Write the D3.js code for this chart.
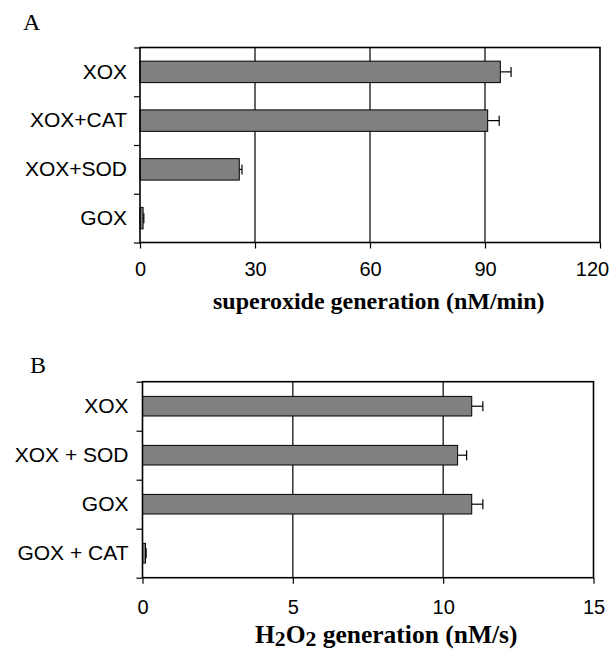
<!DOCTYPE html>
<html>
<head>
<meta charset="utf-8">
<script src="https://cdn.jsdelivr.net/npm/d3@7"></script>
<style>
  body { margin: 0; background: #fff; }
  svg { display: block; }
</style>
</head>
<body>
<div id="chart"></div>
<script>
// panel A data
const catsA = ['XOX', 'XOX+CAT', 'XOX+SOD', 'GOX']
const valsA = [94, 90.7, 25.9, 0.8]
const errsA = [2.8, 3.0, 0.7, 0.2]
const ticksA = [0, 30, 60, 90, 120]

// panel B data
const catsB = ['XOX', 'XOX + SOD', 'GOX', 'GOX + CAT']
const valsB = [10.95, 10.48, 10.95, 0.1]
const errsB = [0.37, 0.3, 0.37, 0.02]
const ticksB = [0, 5, 10, 15]

const width = 615,
  height = 659

let svg = d3.select('#chart')
  .append('svg')
  .attr('width', width)
  .attr('height', height)
  .style('background', '#fff')

let drawPanel = (p) => {
  const g = svg.append('g')

  const x = d3.scaleLinear()
    .domain([p.ticks[0], d3.max(p.ticks)])
    .range([p.left, p.right])

  const y = d3.scaleBand()
    .domain(p.cats)
    .range([p.top, p.bottom])
    .paddingInner(p.pad)
    .paddingOuter(p.pad / 2)

  // band boundaries for the outer left ticks
  const yb = d3.scaleLinear()
    .domain([0, p.cats.length])
    .range([p.top, p.bottom])

  // grid lines
  g.selectAll('.grid')
    .data(p.ticks.slice(1, -1))
    .enter()
    .append('line')
    .attr('x1', d => x(d))
    .attr('x2', d => x(d))
    .attr('y1', p.top)
    .attr('y2', p.bottom)
    .attr('stroke', '#000')
    .attr('stroke-width', 1.2)

  // bars
  g.selectAll('.bar')
    .data(p.vals)
    .enter()
    .append('rect')
    .attr('x', x(0))
    .attr('y', (d, i) => y(p.cats[i]))
    .attr('width', d => x(d) - x(0))
    .attr('height', y.bandwidth())
    .attr('fill', '#808080')
    .attr('stroke', '#000')
    .attr('stroke-width', 1)

  // error bars (positive side only)
  const eb = g.selectAll('.err')
    .data(p.vals)
    .enter()
    .append('g')
    .attr('stroke', '#000')
    .attr('stroke-width', 1.2)
  eb.append('line')
    .attr('x1', d => x(d))
    .attr('x2', (d, i) => x(d + p.errs[i]))
    .attr('y1', (d, i) => y(p.cats[i]) + y.bandwidth() / 2)
    .attr('y2', (d, i) => y(p.cats[i]) + y.bandwidth() / 2)
  eb.append('line')
    .attr('x1', (d, i) => x(d + p.errs[i]))
    .attr('x2', (d, i) => x(d + p.errs[i]))
    .attr('y1', (d, i) => y(p.cats[i]) + y.bandwidth() / 2 - 5)
    .attr('y2', (d, i) => y(p.cats[i]) + y.bandwidth() / 2 + 5)

  // frame
  g.append('rect')
    .attr('x', p.left)
    .attr('y', p.top)
    .attr('width', p.right - p.left)
    .attr('height', p.bottom - p.top)
    .attr('fill', 'none')
    .attr('stroke', '#000')
    .attr('stroke-width', 1.6)

  // left ticks at band edges
  g.append('g')
    .attr('transform', `translate(${p.left},0)`)
    .call(d3.axisLeft(yb).tickValues(d3.range(p.cats.length + 1)).tickSize(6).tickFormat(''))
    .call(a => a.select('.domain').remove())
    .selectAll('line').attr('stroke-width', 1.2)

  // category labels
  g.append('g')
    .attr('transform', `translate(${p.left},0)`)
    .call(d3.axisLeft(y).tickSize(0).tickPadding(p.labelPad))
    .call(a => a.select('.domain').remove())
    .selectAll('text')
    .attr('font-family', '"Liberation Sans", Arial, sans-serif')
    .attr('font-size', 21)
    .attr('fill', '#000')

  // bottom axis
  g.append('g')
    .attr('transform', `translate(0,${p.bottom})`)
    .call(d3.axisBottom(x).tickValues(p.ticks).tickSize(6).tickPadding(p.tickPad))
    .call(a => a.select('.domain').remove())
    .call(a => a.selectAll('line').attr('stroke-width', 1.2))
    .selectAll('text')
    .attr('font-family', '"Liberation Sans", Arial, sans-serif')
    .attr('font-size', 20)
    .attr('fill', '#000')
    .attr('dx', (d, i) => i === p.ticks.length - 1 ? p.lastShift : 0)

  // panel letter
  g.append('text')
    .attr('x', p.letterX)
    .attr('y', p.letterY)
    .attr('font-family', '"Liberation Serif", "Times New Roman", serif')
    .attr('font-size', 24)
    .text(p.letter)

  // axis title
  const t = g.append('text')
    .attr('x', p.titleX)
    .attr('y', p.titleY)
    .attr('font-family', '"Liberation Serif", "Times New Roman", serif')
    .attr('font-weight', 'bold')
    .attr('font-size', p.titleSize)
  p.title.forEach(part => {
    const s = t.append('tspan').text(part.text)
    if (part.sub) s.attr('font-size', p.titleSize * 0.85).attr('baseline-shift', '-15%')
  })
}

drawPanel({
  cats: catsA, vals: valsA, errs: errsA, ticks: ticksA,
  left: 140, right: 600, top: 47.5, bottom: 242.5, pad: 0.56,
  labelPad: 13, tickPad: 13, lastShift: -8,
  letter: 'A', letterX: 23, letterY: 29.5,
  title: [{ text: 'superoxide generation (nM/min)' }],
  titleX: 213, titleY: 309, titleSize: 24
})

drawPanel({
  cats: catsB, vals: valsB, errs: errsB, ticks: ticksB,
  left: 142.5, right: 593.5, top: 381.7, bottom: 577.7, pad: 0.6,
  labelPad: 14, tickPad: 16, lastShift: 0,
  letter: 'B', letterX: 30, letterY: 373.3,
  title: [{ text: 'H' }, { text: '2', sub: true }, { text: 'O' }, { text: '2', sub: true }, { text: ' generation (nM/s)' }],
  titleX: 255, titleY: 643.3, titleSize: 25.5
})
</script>
</body>
</html>
